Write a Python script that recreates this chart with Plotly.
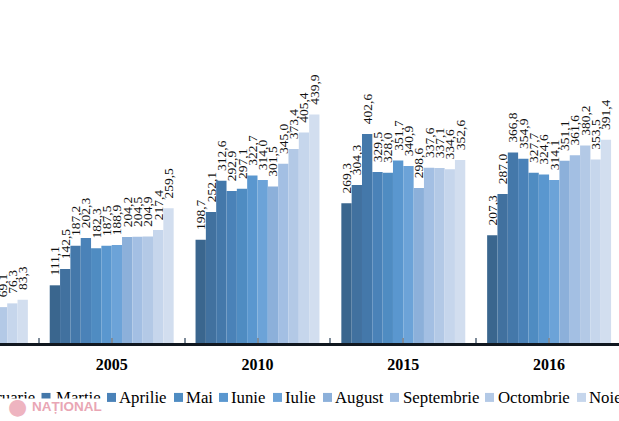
import plotly.graph_objects as go

years = ["2000", "2005", "2010", "2015", "2016"]
months = ["Ianuarie", "Februarie", "Martie", "Aprilie", "Mai", "Iunie", "Iulie", "August",
          "Septembrie", "Octombrie", "Noiembrie", "Decembrie"]
colors = ["#3a668e", "#41719f", "#4478aa", "#4a82b8", "#4f8cc2", "#5a97cf", "#6ca3d8", "#8cb0da",
          "#a3bfe3", "#b3c9e6", "#c6d6ec", "#d2deef"]
# the first group is cut off by the crop: only its last three values are visible
values_2000 = [None, None, None, None, None, None, None, None, None, 69.1, 76.3, 83.3]
values_2005 = [111.1, 142.5, 187.2, 202.3, 182.3, 187.5, 188.9, 204.2, 204.5, 204.9, 217.4, 259.5]
values_2010 = [198.7, 252.1, 312.6, 292.9, 297.1, 322.7, 314.0, 301.5, 345.0, 373.4, 405.4, 439.9]
values_2015 = [269.3, 304.3, 402.6, 329.5, 328.0, 351.7, 340.9, 298.6, 337.6, 337.1, 334.6, 352.6]
values_2016 = [207.3, 287.0, 366.8, 354.9, 327.7, 324.6, 314.1, 351.1, 361.6, 380.2, 353.5, 391.4]
table = [values_2000, values_2005, values_2010, values_2015, values_2016]

W, H = 619, 421
BASE = 343.5
C0, PITCH = 111.7, 145.8
FONT = "Liberation Serif"


def py(p):
    return 1 - p / BASE


xpos = list(range(len(years)))
fig = go.Figure()
for m, (name, col) in enumerate(zip(months, colors)):
    vals = [row[m] for row in table]
    fig.add_bar(x=xpos, y=vals, name=name, marker=dict(color=col, line=dict(width=0)),
                text=[("" if v is None else "\u00a0\u00a0" + f"{v:.1f}".replace(".", ",")) for v in vals],
                textposition="outside", textangle=-90, cliponaxis=False, constraintext="none",
                textfont=dict(family=FONT, size=13.5, color="#111111"))

tickvals, ticktext = [], []
for i, y in enumerate(years):
    tickvals += [i, i + 0.5]
    ticktext += [y, ""]
tickvals.append(-0.5)
ticktext.append("")

ann = []
legend_text = {"Februarie": (37, "right"), "Martie": (54, "left"), "Aprilie": (116.5, "left"),
               "Mai": (183.5, "left"), "Iunie": (229, "left"), "Iulie": (283, "left"),
               "August": (333, "left"), "Septembrie": (400.7, "left"), "Octombrie": (496, "left"),
               "Noiembrie": (587, "left")}
legend_sq = {"Martie": 41.5, "Aprilie": 107, "Mai": 174, "Iunie": 219, "Iulie": 273, "August": 323,
             "Septembrie": 390, "Octombrie": 485, "Noiembrie": 577}
shapes = []
for name, (px, anchor) in legend_text.items():
    ann.append(dict(text=name, x=px / W, y=py(398), xref="paper", yref="paper",
                    xanchor=anchor, yanchor="middle", showarrow=False,
                    font=dict(family=FONT, size=16.8, color="#000000")))
for name, px in legend_sq.items():
    col = colors[months.index(name)]
    shapes.append(dict(type="rect", xref="paper", yref="paper", x0=px / W, x1=(px + 9) / W,
                       y0=py(402.5), y1=py(393.5), fillcolor=col, line=dict(width=0)))
# watermark
ann.append(dict(text=" ", x=52 / W, y=py(411), xref="paper", yref="paper", showarrow=False,
                width=104, height=21, bgcolor="#ffffff", xanchor="center", yanchor="middle"))
ann.append(dict(text="●", x=17.5 / W, y=py(407), xref="paper", yref="paper", showarrow=False,
                xanchor="center", yanchor="middle", font=dict(size=22, color="#eeb4c0", family="DejaVu Sans")))
ann.append(dict(text="<b>NAȚIONAL</b>", x=30 / W, y=py(407), xref="paper", yref="paper", showarrow=False,
                xanchor="left", yanchor="middle", font=dict(size=13.5, color="#e9a6b4", family="Liberation Sans")))

fig.update_layout(
    width=W, height=H, margin=dict(l=0, r=0, t=0, b=H - BASE, autoexpand=False),
    paper_bgcolor="white", plot_bgcolor="white", showlegend=False,
    barmode="group", bargap=0.15, bargroupgap=0,
    annotations=ann, shapes=shapes,
    xaxis=dict(type="linear", range=[(0 - C0) / PITCH + 1, (W - C0) / PITCH + 1],
               tickmode="array", tickvals=tickvals, ticktext=ticktext,
               ticks="inside", ticklen=5, tickwidth=1.5, tickcolor="#7f8c9a",
               showgrid=False, zeroline=False, showline=True, linecolor="#111820", linewidth=2.5,
               tickfont=dict(family=FONT, size=16, color="#000000", weight="bold"),
               ticklabelstandoff=5),
    yaxis=dict(range=[0, BASE / 0.52], visible=False, showgrid=False, zeroline=False),
)
fig.write_html("out.html", config=dict(displayModeBar=False),
               post_script="document.body.style.margin='0';document.documentElement.style.overflow='hidden';")
